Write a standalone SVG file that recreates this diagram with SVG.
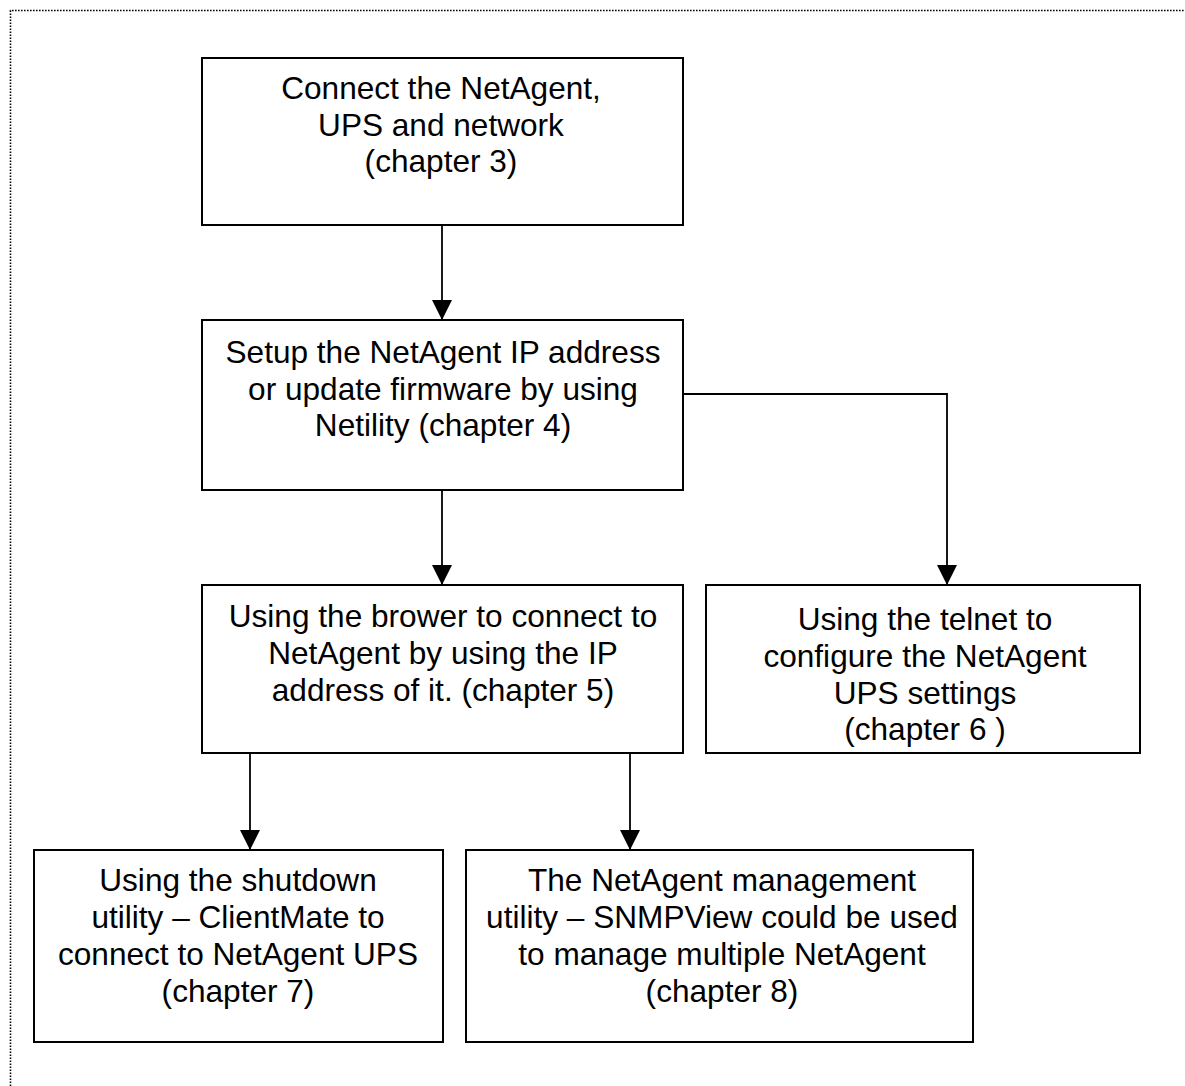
<svg xmlns="http://www.w3.org/2000/svg" width="1185" height="1086" viewBox="0 0 1185 1086">
<defs>
<style>
.box{fill:#fff;stroke:#000;stroke-width:2}
.t{font-family:"Liberation Sans",Arial,sans-serif;font-size:31.6px;fill:#000;text-anchor:middle}
.c{fill:none;stroke:#000;stroke-width:1.8}
.frame{fill:none;stroke:#000;stroke-width:1.6;stroke-dasharray:1.6 1.4}
</style>
<marker id="ah" viewBox="0 0 20 20" refX="20" refY="10" markerWidth="20" markerHeight="20" markerUnits="userSpaceOnUse" orient="auto">
<path d="M0,0 L20,10 L0,20 Z" fill="#000"/>
</marker>
</defs>
<rect width="1185" height="1086" fill="#fff"/>
<path class="frame" d="M10.5,1086 V10.5 H1185"/>
<g id="connectors">
<path class="c" d="M442,225 V320" marker-end="url(#ah)"/>
<path class="c" d="M442,490 V585" marker-end="url(#ah)"/>
<path class="c" d="M683,394 H947 V585" marker-end="url(#ah)"/>
<path class="c" d="M250,753 V850" marker-end="url(#ah)"/>
<path class="c" d="M630,753 V850" marker-end="url(#ah)"/>
</g>
<g id="n1">
<rect class="box" x="202" y="58" width="481" height="167"/>
<text class="t" x="441" y="99">Connect the NetAgent,</text>
<text class="t" x="441" y="135.5">UPS and network</text>
<text class="t" x="441" y="172">(chapter 3)</text>
</g>
<g id="n2">
<rect class="box" x="202" y="320" width="481" height="170"/>
<text class="t" x="443" y="363">Setup the NetAgent IP address</text>
<text class="t" x="443" y="399.5">or update firmware by using</text>
<text class="t" x="443" y="436">Netility (chapter 4)</text>
</g>
<g id="n3">
<rect class="box" x="202" y="585" width="481" height="168"/>
<text class="t" x="443" y="627">Using the brower to connect to</text>
<text class="t" x="443" y="664">NetAgent by using the IP</text>
<text class="t" x="443" y="700.5">address of it. (chapter 5)</text>
</g>
<g id="n4">
<rect class="box" x="706" y="585" width="434" height="168"/>
<text class="t" x="925" y="630">Using the telnet to</text>
<text class="t" x="925" y="667">configure the NetAgent</text>
<text class="t" x="925" y="703.5">UPS settings</text>
<text class="t" x="925" y="740">(chapter 6 )</text>
</g>
<g id="n5">
<rect class="box" x="34" y="850" width="409" height="192"/>
<text class="t" x="238" y="891">Using the shutdown</text>
<text class="t" x="238" y="928">utility – ClientMate to</text>
<text class="t" x="238" y="965">connect to NetAgent UPS</text>
<text class="t" x="238" y="1002">(chapter 7)</text>
</g>
<g id="n6">
<rect class="box" x="466" y="850" width="507" height="192"/>
<text class="t" x="722" y="891">The NetAgent management</text>
<text class="t" x="722" y="928">utility – SNMPView could be used</text>
<text class="t" x="722" y="965">to manage multiple NetAgent</text>
<text class="t" x="722" y="1002">(chapter 8)</text>
</g>
</svg>
